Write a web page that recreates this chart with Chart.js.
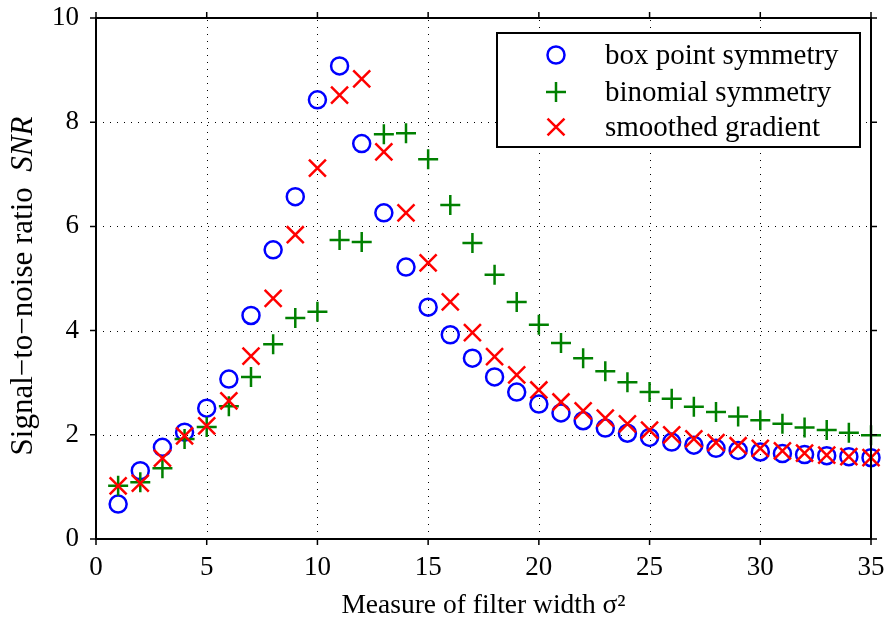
<!DOCTYPE html>
<html>
<head>
<meta charset="utf-8">
<script src="https://cdn.jsdelivr.net/npm/chart.js@4.4.0/dist/chart.umd.min.js"></script>
<style>
  html, body { margin: 0; padding: 0; background: #fff; }
  #wrap { width: 886px; height: 630px; }
</style>
</head>
<body>
<div id="wrap"><canvas id="snrChart"></canvas></div>
<script>
// filter width sigma^2 (x) and the three SNR series
const filterWidth = [1, 2, 3, 4, 5, 6, 7, 8, 9, 10, 11, 12, 13, 14, 15, 16, 17, 18,
  19, 20, 21, 22, 23, 24, 25, 26, 27, 28, 29, 30, 31, 32, 33, 34, 35];
const boxPoint = [0.67, 1.31, 1.76, 2.05, 2.51, 3.07, 4.29, 5.55, 6.57, 8.43, 9.08, 7.59,
  6.26, 5.22, 4.45, 3.92, 3.47, 3.11, 2.82, 2.59, 2.42, 2.27, 2.13, 2.03, 1.95, 1.86,
  1.80, 1.74, 1.70, 1.67, 1.64, 1.62, 1.60, 1.58, 1.56];
const binomial = [1.02, 1.09, 1.36, 1.92, 2.15, 2.55, 3.11, 3.74, 4.24, 4.36, 5.74, 5.70,
  7.77, 7.79, 7.29, 6.41, 5.68, 5.07, 4.55, 4.11, 3.76, 3.47, 3.22, 3.01, 2.82, 2.69,
  2.54, 2.44, 2.35, 2.28, 2.21, 2.14, 2.09, 2.04, 1.99];
const smoothedGrad = [1.02, 1.07, 1.55, 1.98, 2.17, 2.65, 3.51, 4.62, 5.84, 7.12, 8.52, 8.83,
  7.43, 6.26, 5.30, 4.55, 3.96, 3.50, 3.15, 2.86, 2.63, 2.46, 2.32, 2.21, 2.09, 2.00,
  1.92, 1.85, 1.79, 1.74, 1.69, 1.65, 1.61, 1.58, 1.56];

const seriesNames = ['box point symmetry', 'binomial symmetry', 'smoothed gradient'];
const xTicks = [0, 5, 10, 15, 20, 25, 30, 35];
const yTicks = [0, 2, 4, 6, 8, 10];

const FONT = 'Liberation Serif';

function pts(ys) {
  return filterWidth.map((x, i) => ({ x: x, y: ys[i] }));
}

// no extra label padding around the plot box
function noPad(s) {
  s.paddingTop = 0; s.paddingBottom = 0; s.paddingLeft = 0; s.paddingRight = 0;
}

// dotted grid under the markers
const gridPlugin = {
  id: 'dottedGrid',
  beforeDatasetsDraw(chart) {
    const { ctx, chartArea: a, scales: { x, y } } = chart;
    ctx.save();
    ctx.strokeStyle = '#000';
    ctx.lineWidth = 1;
    ctx.setLineDash([1, 6]);
    xTicks.forEach(v => {
      const px = Math.round(x.getPixelForValue(v)) + 0.5;
      ctx.beginPath(); ctx.moveTo(px, a.bottom); ctx.lineTo(px, a.top); ctx.stroke();
    });
    yTicks.forEach(v => {
      const py = Math.round(y.getPixelForValue(v)) + 0.5;
      ctx.beginPath(); ctx.moveTo(a.left, py); ctx.lineTo(a.right, py); ctx.stroke();
    });
    ctx.restore();
  }
};

// box, outward ticks, y title, legend
const framePlugin = {
  id: 'frameAndLegend',
  afterDatasetsDraw(chart) {
    const { ctx, chartArea: a, scales: { x, y } } = chart;
    ctx.save();
    ctx.strokeStyle = '#000';
    ctx.lineWidth = 2;
    ctx.strokeRect(a.left, a.top, a.right - a.left, a.bottom - a.top);

    ctx.lineWidth = 1.5;
    const tl = 6;
    ctx.beginPath();
    xTicks.forEach(v => {
      const px = x.getPixelForValue(v);
      ctx.moveTo(px, a.bottom); ctx.lineTo(px, a.bottom + tl);
      ctx.moveTo(px, a.top); ctx.lineTo(px, a.top - tl);
    });
    yTicks.forEach(v => {
      const py = y.getPixelForValue(v);
      ctx.moveTo(a.left, py); ctx.lineTo(a.left - tl, py);
      ctx.moveTo(a.right, py); ctx.lineTo(a.right + tl, py);
    });
    ctx.stroke();

    // y axis title with italic SNR
    ctx.save();
    ctx.translate(32, 286);
    ctx.rotate(-Math.PI / 2);
    ctx.fillStyle = '#000';
    ctx.textBaseline = 'alphabetic';
    const part1 = 'Signal\u2212to\u2212noise ratio  ';
    const part2 = 'SNR';
    ctx.font = '31px "' + FONT + '"';
    const w1 = ctx.measureText(part1).width;
    ctx.font = 'italic 31px "' + FONT + '"';
    const w2 = ctx.measureText(part2).width;
    const start = -(w1 + w2) / 2;
    ctx.font = '31px "' + FONT + '"';
    ctx.textAlign = 'left';
    ctx.fillText(part1, start, 0);
    ctx.font = 'italic 31px "' + FONT + '"';
    ctx.fillText(part2, start + w1, 0);
    ctx.restore();

    // legend box
    const lx = 497, ly = 33, lw = 363, lh = 114;
    ctx.fillStyle = '#fff';
    ctx.fillRect(lx, ly, lw, lh);
    ctx.lineWidth = 2;
    ctx.strokeStyle = '#000';
    ctx.strokeRect(lx, ly, lw, lh);
    const rows = [55, 92, 127];
    chart.data.datasets.forEach((ds, i) => {
      ctx.strokeStyle = ds.borderColor;
      ctx.fillStyle = 'rgba(0,0,0,0)';
      ctx.lineWidth = ds.borderWidth;
      Chart.helpers.drawPoint(ctx, {
        pointStyle: ds.pointStyle,
        radius: ds.pointRadius,
        borderWidth: ds.borderWidth
      }, 556, rows[i]);
      ctx.fillStyle = '#000';
      ctx.font = '29px "' + FONT + '"';
      ctx.textAlign = 'left';
      ctx.textBaseline = 'middle';
      ctx.fillText(seriesNames[i], 605, rows[i] + 1);
    });
    ctx.restore();
  }
};

const ctx = document.getElementById('snrChart');
new Chart(ctx, {
  type: 'scatter',
  data: {
    datasets: [
      {
        label: seriesNames[0], data: pts(boxPoint),
        pointStyle: 'circle', pointRadius: 8.5, pointHoverRadius: 8.5,
        borderColor: '#0000ff', backgroundColor: 'rgba(0,0,0,0)', borderWidth: 2.5,
        clip: false, order: 3
      },
      {
        label: seriesNames[1], data: pts(binomial),
        pointStyle: 'cross', pointRadius: 10, pointHoverRadius: 10,
        borderColor: '#008000', backgroundColor: '#008000', borderWidth: 2.5,
        clip: false, order: 2
      },
      {
        label: seriesNames[2], data: pts(smoothedGrad),
        pointStyle: 'crossRot', pointRadius: 12, pointHoverRadius: 12,
        borderColor: '#ff0000', backgroundColor: '#ff0000', borderWidth: 2.5,
        clip: false, order: 1
      }
    ]
  },
  options: {
    responsive: true,
    maintainAspectRatio: false,
    animation: false,
    layout: { padding: { left: 0, right: 15, top: 18, bottom: 0 } },
    plugins: {
      legend: { display: false },
      tooltip: { enabled: false }
    },
    scales: {
      x: {
        type: 'linear', min: 0, max: 35,
        afterBuildTicks: s => { s.ticks = xTicks.map(v => ({ value: v })); },
        afterFit: s => { s.height = 91; noPad(s); },
        grid: { display: false, drawTicks: false },
        border: { display: false },
        ticks: { color: '#000', padding: 13, font: { family: FONT, size: 27 } },
        title: {
          display: true, text: 'Measure of filter width \u03c3\u00b2', color: '#000',
          padding: { top: 0, bottom: 8 }, font: { family: FONT, size: 27.5 }
        }
      },
      y: {
        type: 'linear', min: 0, max: 10,
        afterBuildTicks: s => { s.ticks = yTicks.map(v => ({ value: v })); },
        afterFit: s => { s.width = 96; noPad(s); },
        grid: { display: false, drawTicks: false },
        border: { display: false },
        ticks: { color: '#000', padding: 17, font: { family: FONT, size: 27 } }
      }
    }
  },
  plugins: [gridPlugin, framePlugin]
});
</script>
</body>
</html>
